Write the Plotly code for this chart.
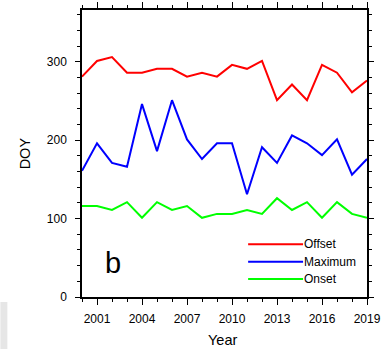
import plotly.graph_objects as go

years = list(range(2000, 2020))
offset = [281, 301, 306, 286, 286, 291, 291, 281, 286, 281, 296, 291, 301, 251, 271, 251, 296, 286, 261, 276]
maximum = [161, 196, 171, 166, 246, 186, 251, 201, 176, 196, 196, 131, 191, 171, 206, 196, 181, 201, 156, 176]
onset = [116, 116, 111, 121, 101, 121, 111, 116, 101, 106, 106, 111, 106, 126, 111, 121, 101, 121, 106, 101]

names = ["Offset", "Maximum", "Onset"]
colors = ["#ff0000", "#0000ff", "#00ff00"]
series = [offset, maximum, onset]

FONT = "Liberation Sans, Arial, sans-serif"

fig = go.Figure()
for name, col, vals in zip(names, colors, series):
    fig.add_trace(go.Scatter(x=years, y=vals, mode="lines", name=name,
                             line=dict(color=col, width=2), showlegend=False))

PL, PR, PT, PB = 81.7, 367.0, 10.0, 297.0
PW, PH = PR - PL, PB - PT

def px(x):
    return (x - PL) / PW

def py(y):
    return (PB - y) / PH

leg_y = [244.3, 261.7, 279]
shapes = []
annotations = []
for name, col, yy in zip(names, colors, leg_y):
    shapes.append(dict(type="line", xref="paper", yref="paper", x0=px(248), x1=px(303), y0=py(yy), y1=py(yy),
                       line=dict(color=col, width=2)))
    annotations.append(dict(xref="paper", yref="paper", x=px(302), y=py(yy), text=name, showarrow=False,
                            xanchor="left", yanchor="middle", font=dict(family=FONT, size=12, color="black")))

annotations.append(dict(xref="paper", yref="paper", x=px(103), y=py(263), text="b",
                        showarrow=False, xanchor="left", yanchor="middle",
                        font=dict(family=FONT, size=29, color="black")))

annotations.append(dict(xref="paper", yref="paper", x=px(222), y=py(340), text="Year",
                        showarrow=False, xanchor="center", yanchor="middle",
                        font=dict(family=FONT, size=14.5, color="black")))
annotations.append(dict(xref="paper", yref="paper", x=px(25), y=py(153), text="DOY", textangle=-90,
                        showarrow=False, xanchor="center", yanchor="middle",
                        font=dict(family=FONT, size=14.5, color="black")))

shapes.append(dict(type="rect", xref="paper", yref="paper", x0=px(0), x1=px(7), y0=py(349), y1=py(302),
                   fillcolor="#e6e6e6", line=dict(width=0), layer="below"))

fig.update_layout(
    width=386, height=349,
    margin=dict(l=PL, r=386 - PR, t=PT, b=349 - PB, autoexpand=False),
    paper_bgcolor="white", plot_bgcolor="white",
    font=dict(family=FONT, size=12, color="black"),
    shapes=shapes, annotations=annotations,
    xaxis=dict(range=[2000, 2019], tickmode="array", tickvals=[2001, 2004, 2007, 2010, 2013, 2016, 2019],
               ticks="outside", ticklen=6, tickwidth=1, tickcolor="black", automargin=False,
               ticklabelstandoff=4,
               showline=True, linecolor="black", linewidth=1.5, mirror="allticks", showgrid=False, zeroline=False,
               minor=dict(tickmode="array", tickvals=years, ticks="outside", ticklen=3, tickcolor="black", showgrid=False),
               tickfont=dict(size=12)),
    yaxis=dict(range=[0, 366], tickmode="array", tickvals=[0, 100, 200, 300],
               ticks="outside", ticklen=5, tickwidth=1, tickcolor="black", automargin=False,
               ticklabelstandoff=6,
               showline=True, linecolor="black", linewidth=1.5, mirror="allticks", showgrid=False, zeroline=False,
               minor=dict(tickmode="array", tickvals=list(range(0, 366, 20)), ticks="outside", ticklen=3, tickcolor="black", showgrid=False),
               tickfont=dict(size=12)),
)

fig.write_html("out.html", config={"displayModeBar": False},
               post_script="document.body.style.margin='0';document.body.style.padding='0';")
